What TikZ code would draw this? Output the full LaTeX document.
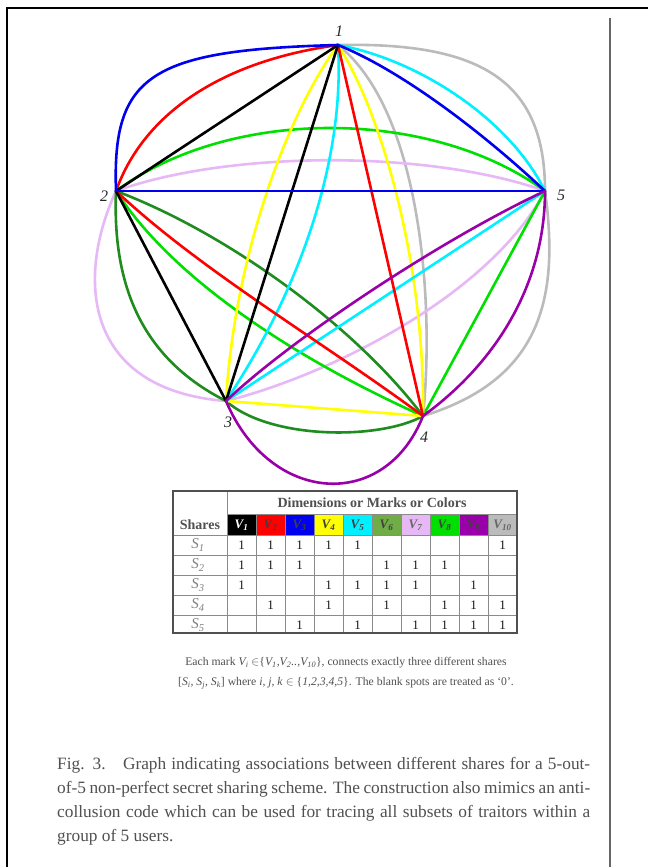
\documentclass[tikz,border=0pt]{standalone}
\usepackage{fontspec}
\setmainfont{Liberation Serif}
\definecolor{cVa}{HTML}{000000}
\definecolor{cVb}{HTML}{FF0000}
\definecolor{cVc}{HTML}{0000F0}
\definecolor{cVd}{HTML}{FFFF00}
\definecolor{cVe}{HTML}{00F0FF}
\definecolor{cVf}{HTML}{1E8C1E}
\definecolor{cVg}{HTML}{E6B8F5}
\definecolor{cVh}{HTML}{00E000}
\definecolor{cVi}{HTML}{9900AA}
\definecolor{cVj}{HTML}{BBBBBB}
\definecolor{tVf}{HTML}{70AD47}
\definecolor{txtgray}{HTML}{505050}
\definecolor{gridgray}{HTML}{8A8A8A}
\begin{document}
\begin{tikzpicture}[x=1pt,y=-1pt,
  edge/.style={line width=2.6pt, line cap=round},
  vlabel/.style={font=\fontsize{16}{16}\selectfont\itshape, text=black!85, inner sep=0pt},
  datum/.style={font=\fontsize{13}{13}\selectfont, text=black!90, inner sep=0pt},
  rowlab/.style={font=\fontsize{15}{15}\selectfont\itshape, text=gray, inner sep=0pt},
  hdr/.style={font=\fontsize{14}{14}\selectfont\bfseries, text=txtgray, inner sep=0pt},
  gridline/.style={gridgray, line width=0.8pt}]
\useasboundingbox (0,0) rectangle (648,867);
\fill[white] (0,0) rectangle (648,867);
% frame
\draw[line width=2.6pt] (7,867) -- (7,8) -- (648,8);
\draw[line width=1.6pt, gray!80!black] (610,18) -- (610,867);
% vertices
\coordinate (n1) at (338,45);
\coordinate (n2) at (116,191);
\coordinate (n3) at (226,401);
\coordinate (n4) at (423,416);
\coordinate (n5) at (545,191);
% V10 gray
\draw[edge,cVj] (n1) .. controls (480,42) and (545,80) .. (n5);
\draw[edge,cVj] (n1) .. controls (420,110) and (435,300) .. (n4);
\draw[edge,cVj] (n5) .. controls (560,300) and (540,380) .. (n4);
% V7 lavender
\draw[edge,cVg] (n2) .. controls (75,280) and (85,390) .. (n3);
\draw[edge,cVg] (n2) .. controls (230,150) and (430,150) .. (n5);
\draw[edge,cVg] (n3) .. controls (330,375) and (490,295) .. (n5);
% V8 green
\draw[edge,cVh] (n2) .. controls (180,290) and (320,370) .. (n4);
\draw[edge,cVh] (n2) .. controls (230,107) and (430,107) .. (n5);
\draw[edge,cVh] (n4) -- (n5);
% V6 dark green
\draw[edge,cVf] (n2) .. controls (112,290) and (145,360) .. (n3);
\draw[edge,cVf] (n2) .. controls (220,230) and (350,320) .. (n4);
\draw[edge,cVf] (n3) .. controls (270,440) and (380,440) .. (n4);
% V4 yellow
\draw[edge,cVd] (n1) .. controls (290,110) and (235,250) .. (n3);
\draw[edge,cVd] (n1) .. controls (380,110) and (425,260) .. (n4);
\draw[edge,cVd] (n3) -- (n4);
% V5 cyan
\draw[edge,cVe] (n1) .. controls (345,160) and (300,290) .. (n3);
\draw[edge,cVe] (n1) .. controls (420,60) and (510,120) .. (n5);
\draw[edge,cVe] (n3) -- (n5);
% V2 red
\draw[edge,cVb] (n1) .. controls (215,62) and (142,118) .. (n2);
\draw[edge,cVb] (n1) -- (n4);
\draw[edge,cVb] (n2) .. controls (200,270) and (320,340) .. (n4);
% V1 black
\draw[edge,cVa] (n1) -- (n2);
\draw[edge,cVa] (n1) -- (n3);
\draw[edge,cVa] (n2) -- (n3);
% V3 blue
\draw[edge,cVc] (n1) .. controls (150,50) and (112,75) .. (n2);
\draw[edge,cVc] (n1) .. controls (400,70) and (480,130) .. (n5);
\draw[edge,cVc] (n2) -- (n5);
% V9 purple
\draw[edge,cVi] (n3) .. controls (270,505) and (385,512) .. (n4);
\draw[edge,cVi] (n3) .. controls (290,340) and (440,240) .. (n5);
\draw[edge,cVi] (n4) .. controls (500,360) and (545,280) .. (n5);
% vertex labels
\node[vlabel] (l1) at (339,31) {1};
\node[vlabel] (l2) at (104,196) {2};
\node[vlabel] (l3) at (228,422) {3};
\node[vlabel] (l4) at (424,437) {4};
\node[vlabel] (l5) at (561,195) {5};
% table: colored header cells
\foreach \c/\col/\tc in {1/cVa/white,2/cVb/black!75,3/cVc/black!75,4/cVd/black!75,5/cVe/black!75,6/tVf/black!75,7/cVg/black!60,8/cVh/black!75,9/cVi/black!75,10/cVj/black!60}{
  \fill[\col] ({227+29*(\c-1)},514) rectangle ({227+29*\c},535);
  \node[font=\fontsize{13}{13}\selectfont\bfseries\itshape, text=\tc, inner sep=0pt] (vh\c) at ({227+29*\c-14.5},525) {V\textsubscript{\c}};
}
% grid
\foreach \y in {535,555,575,595,615}{\draw[gridline] (173,\y) -- (517,\y);}
\draw[gridline] (227,514) -- (517,514);
\draw[gridline] (227,491) -- (227,633);
\foreach \c in {1,...,9}{\draw[gridline] ({227+29*\c},514) -- ({227+29*\c},633);}
\draw[txtgray, line width=1.2pt] (173,491) rectangle (517,633);
% headers
\node[hdr] (dim) at (372,503) {Dimensions or Marks or Colors};
\node[hdr] (sh) at (200,525) {Shares};
% row labels
\foreach \r in {1,...,5}{\node[rowlab] (s\r) at (198,{525+20*\r}) {S\textsubscript{\r}};}
% data
\foreach \r/\cols in {1/{1,2,3,4,5,10},2/{1,2,3,6,7,8},3/{1,4,5,6,7,9},4/{2,4,6,8,9,10},5/{3,5,7,8,9,10}}{
  \foreach \c in \cols {\node[datum] (d-\r-\c) at ({227+29*\c-14.5},{525+20*\r}) {1};}
}
% note under table
\node[font=\fontsize{11.7}{20}\selectfont, text=txtgray, align=center, inner sep=0pt] (note) at (346,673)
 {Each mark \textit{V\textsubscript{i}} $\in$\{\textit{V\textsubscript{1},V\textsubscript{2}..,V\textsubscript{10}}\}, connects exactly three different shares\\
  {[}\textit{S\textsubscript{i}, S\textsubscript{j}, S\textsubscript{k}}] where \textit{i, j, k} $\in$ \{\textit{1,2,3,4,5}\}. The blank spots are treated as `0'.};
% caption
\node[font=\fontsize{17.3}{24}\selectfont, text=txtgray, text width=533pt, align=justify, inner sep=0pt, anchor=north west] (cap) at (57,757)
 {Fig. 3.\quad Graph indicating associations between different shares for a 5-out-\linebreak of-5 non-perfect secret sharing scheme. The construction also mimics an anti-\linebreak collusion code which can be used for tracing all subsets of traitors within a\linebreak group of 5 users.};
\end{tikzpicture}
\end{document}
